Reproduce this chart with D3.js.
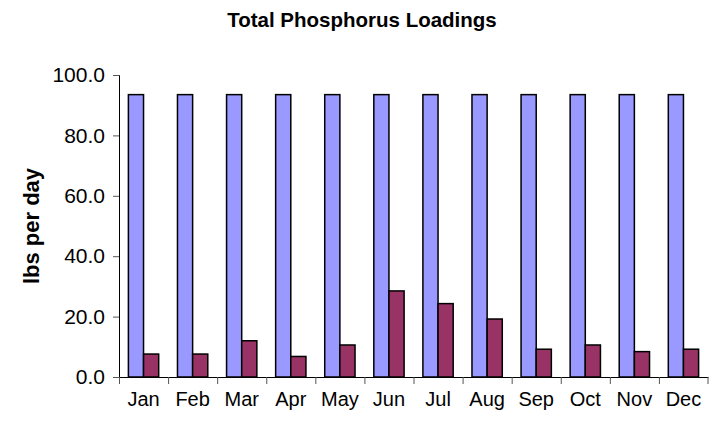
<!DOCTYPE html>
<html>
<head>
<meta charset="utf-8">
<script src="https://cdn.jsdelivr.net/npm/d3@7"></script>
<style>
  html, body { margin: 0; padding: 0; background: #fff; }
  svg { display: block; font-family: "Liberation Sans", Arial, sans-serif; }
</style>
</head>
<body>
<svg id="chart" width="709" height="427"></svg>
<script>
// Monthly total phosphorus loadings (lbs per day)
const months = ["Jan", "Feb", "Mar", "Apr", "May", "Jun", "Jul", "Aug", "Sep", "Oct", "Nov", "Dec"];
const allowable = [93.5, 93.5, 93.5, 93.5, 93.5, 93.5, 93.5, 93.5, 93.5, 93.5, 93.5, 93.5];
const measured = [7.6, 7.6, 12.0, 6.8, 10.6, 28.5, 24.3, 19.2, 9.2, 10.6, 8.4, 9.2];
const yTicks = [0, 20, 40, 60, 80, 100];

const svg = d3.select("#chart");
const margin = { left: 119, right: 1, top: 75, bottom: 50 };
const W = 709, H = 427;
const FONT = "Liberation Sans, Arial, sans-serif";

const x = d3.scaleBand().domain(months).range([margin.left, W - margin.right]).paddingInner(0).paddingOuter(0);
const y = d3.scaleLinear().domain([0, 100]).range([H - margin.bottom, margin.top]);
const inner = d3.scaleBand().domain(["a", "b"]).range([0, x.bandwidth()]).paddingInner(0).paddingOuter(0.62);

// Title
svg.append("text")
  .attr("x", 362).attr("y", 27)
  .attr("text-anchor", "middle")
  .attr("font-size", 20.5).attr("font-weight", "bold")
  .text("Total Phosphorus Loadings");

// Y axis title
svg.append("text")
  .attr("transform", `translate(39,${(y(0) + y(100)) / 2}) rotate(-90)`)
  .attr("text-anchor", "middle")
  .attr("font-size", 22).attr("font-weight", "bold")
  .text("lbs per day");

// Bars
const groups = svg.append("g").selectAll("g").data(months).join("g")
  .attr("transform", d => `translate(${x(d)},0)`);

groups.append("rect")
  .attr("x", inner("a"))
  .attr("y", (d, i) => y(allowable[i]))
  .attr("width", inner.bandwidth())
  .attr("height", (d, i) => y(0) - y(allowable[i]))
  .attr("fill", "#9999FF").attr("stroke", "#000").attr("stroke-width", 1.5);

groups.append("rect")
  .attr("x", inner("b"))
  .attr("y", (d, i) => y(measured[i]))
  .attr("width", inner.bandwidth())
  .attr("height", (d, i) => y(0) - y(measured[i]))
  .attr("fill", "#993366").attr("stroke", "#000").attr("stroke-width", 1.5);

// Y axis
const yAxis = svg.append("g")
  .attr("transform", `translate(${margin.left},0)`)
  .call(d3.axisLeft(y).tickValues(yTicks).tickFormat(d3.format(".1f")).tickSize(6).tickPadding(8));
yAxis.select(".domain").attr("stroke", "#000").attr("stroke-width", 1);
yAxis.selectAll(".tick line").attr("stroke", "#555");
yAxis.selectAll("text").attr("font-size", 21).attr("fill", "#000").attr("font-family", FONT);

// X axis
const xAxis = svg.append("g")
  .attr("transform", `translate(0,${y(0)})`)
  .call(d3.axisBottom(x).tickSize(0).tickPadding(15));
xAxis.select(".domain").attr("stroke", "#000").attr("stroke-width", 1);
xAxis.selectAll("text").attr("font-size", 20).attr("fill", "#000").attr("font-family", FONT);

// Category boundary ticks
svg.append("g").selectAll("line").data(months).join("line")
  .attr("x1", d => x(d) + 0.5).attr("x2", d => x(d) + 0.5)
  .attr("y1", y(0)).attr("y2", y(0) + 7)
  .attr("stroke", "#555");
svg.append("line")
  .attr("x1", W - margin.right).attr("x2", W - margin.right)
  .attr("y1", y(0)).attr("y2", y(0) + 7).attr("stroke", "#555");
</script>
</body>
</html>
